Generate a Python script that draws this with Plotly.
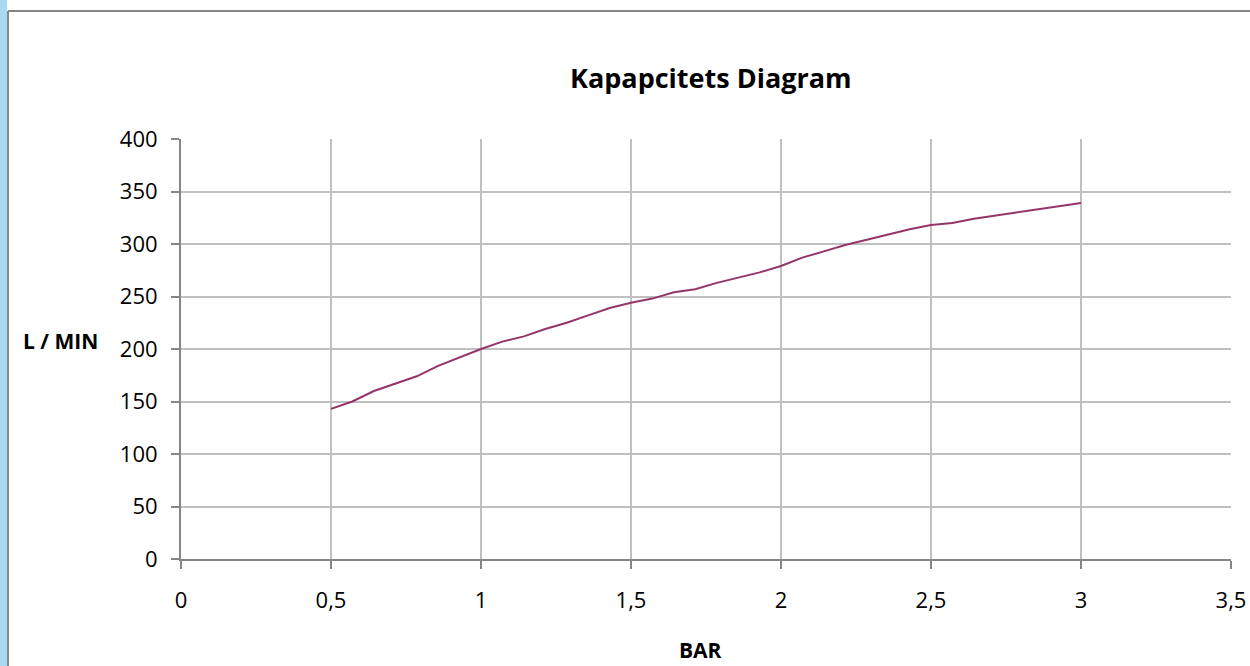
import plotly.graph_objects as go

bar = [0.5, 0.571, 0.643, 0.714, 0.786, 0.857, 0.929, 1.0, 1.071, 1.143, 1.214, 1.286,
       1.357, 1.429, 1.5, 1.571, 1.643, 1.714, 1.786, 1.857, 1.929, 2.0, 2.071, 2.143,
       2.214, 2.286, 2.357, 2.429, 2.5, 2.571, 2.643, 2.714, 2.786, 2.857, 2.929, 3.0]
lpm = [143, 150, 160, 167, 174, 184, 192, 200, 207, 212, 219, 225,
       232, 239, 244, 248, 254, 257, 263, 268, 273, 279, 287, 293,
       299, 304, 309, 314, 318, 320, 324, 327, 330, 333, 336, 339]

title_text = "Kapapcitets Diagram"
x_title = "BAR"
y_title = "L / MIN"

W, H = 1250, 666
L, R, T, B = 181, 19, 139, 107
pw, ph = W - L - R, H - T - B

def px(x):
    return (x - L) / pw

def py(y):
    return (H - B - y) / ph

fig = go.Figure()
fig.add_trace(go.Scatter(x=bar, y=lpm, mode="lines",
                         line=dict(color="#953567", width=2), showlegend=False,
                         hoverinfo="skip"))

font = "'Open Sans', Lato, sans-serif"
fig.update_layout(
    width=W, height=H,
    margin=dict(l=L, r=R, t=T, b=B),
    paper_bgcolor="white", plot_bgcolor="white",
    separators=", ",
    font=dict(family=font, size=22, color="black"),
    xaxis=dict(range=[0, 3.5], dtick=0.5, tick0=0, showgrid=True, gridcolor="#c0c0c0",
               gridwidth=2, showline=True, linecolor="#868686", linewidth=2,
               ticks="outside", ticklen=8, tickcolor="#868686", tickwidth=2,
               ticklabelstandoff=13, zeroline=False, fixedrange=True, automargin=False),
    yaxis=dict(range=[0, 400], dtick=50, tick0=0, showgrid=True, gridcolor="#c0c0c0",
               gridwidth=2, showline=True, linecolor="#868686", linewidth=2,
               ticks="outside", ticklen=8, tickcolor="#868686", tickwidth=2,
               ticklabelstandoff=9, zeroline=False, fixedrange=True, automargin=False),
    annotations=[
        dict(text="<b>" + title_text + "</b>", x=px(711), y=py(77), xref="paper", yref="paper",
             showarrow=False, font=dict(size=27, family=font), xanchor="center", yanchor="middle"),
        dict(text="<b>" + y_title + "</b>", x=px(60), y=py(341), xref="paper", yref="paper",
             showarrow=False, font=dict(size=21, family=font), xanchor="center", yanchor="middle"),
        dict(text="<b>" + x_title + "</b>", x=px(700), y=py(650), xref="paper", yref="paper",
             showarrow=False, font=dict(size=21, family=font), xanchor="center", yanchor="middle"),
    ],
    shapes=[
        dict(type="rect", xref="paper", yref="paper", x0=px(0), x1=px(7), y0=py(H), y1=py(0),
             fillcolor="#a9d9ef", line=dict(width=0), layer="below"),
        dict(type="line", xref="paper", yref="paper", x0=px(8), x1=px(8), y0=py(H), y1=py(11),
             line=dict(color="#868686", width=2)),
        dict(type="line", xref="paper", yref="paper", x0=px(8), x1=px(W), y0=py(11), y1=py(11),
             line=dict(color="#868686", width=2)),
    ],
)

fig.write_html("out.html", config={"displayModeBar": False},
               post_script="document.body.style.margin='0';document.body.style.overflow='hidden';")
